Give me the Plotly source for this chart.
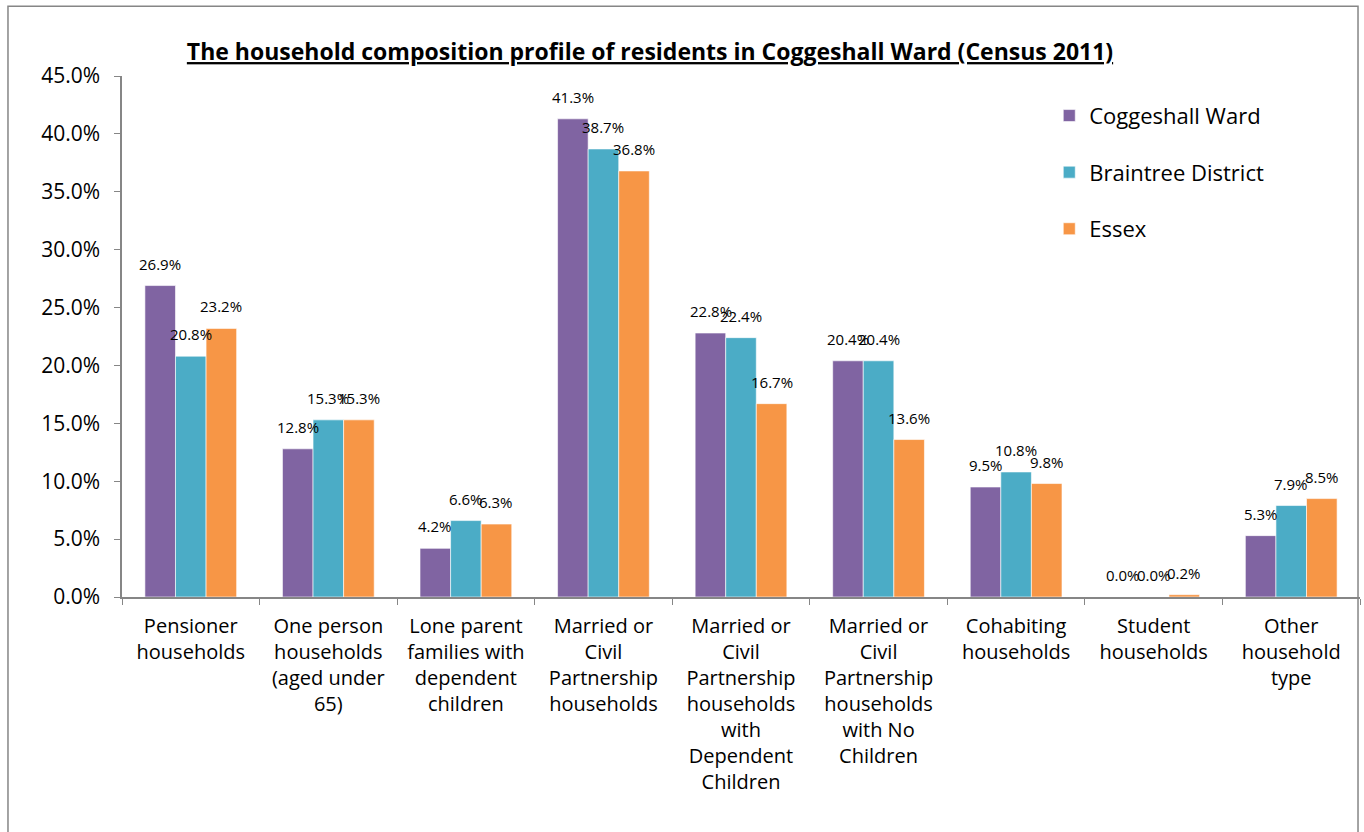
"""Household composition profile, Coggeshall Ward (Census 2011)."""

import plotly.graph_objects as go

categories = [
    "Pensioner<br>households",
    "One person<br>households<br>(aged under<br>65)",
    "Lone parent<br>families with<br>dependent<br>children",
    "Married or<br>Civil<br>Partnership<br>households",
    "Married or<br>Civil<br>Partnership<br>households<br>with<br>Dependent<br>Children",
    "Married or<br>Civil<br>Partnership<br>households<br>with No<br>Children",
    "Cohabiting<br>households",
    "Student<br>households",
    "Other<br>household<br>type",
]

coggeshall = [26.9, 12.8, 4.2, 41.3, 22.8, 20.4, 9.5, 0.0, 5.3]
braintree = [20.8, 15.3, 6.6, 38.7, 22.4, 20.4, 10.8, 0.0, 7.9]
essex = [23.2, 15.3, 6.3, 36.8, 16.7, 13.6, 9.8, 0.2, 8.5]

series_names = ["Coggeshall Ward", "Braintree District", "Essex"]
series_colors = ["#8064A2", "#4BACC6", "#F79646"]

FONT = "Open Sans"
AXIS_GREY = "#868686"

fig = go.Figure()

series = [coggeshall, braintree, essex]
for name, values, color in zip(series_names, series, series_colors):
    fig.add_trace(
        go.Bar(
            x=categories,
            y=values,
            name=name,
            legendgroup=name,
            marker={"color": color, "line": {"color": "rgba(255,255,255,0.6)", "width": 1}},
        )
    )

# data labels sit a little above each bar, as in the original
bar_step = 30.5
for i, values in enumerate(series):
    for cat, val in zip(categories, values):
        fig.add_annotation(
            x=cat,
            y=val,
            text=f"{val:.1f}%",
            showarrow=False,
            xshift=(i - 1) * bar_step,
            yshift=10,
            yanchor="bottom",
            font={"family": FONT, "size": 15, "color": "#000000"},
        )

# outer chart border
fig.add_shape(
    type="rect",
    xref="paper",
    yref="paper",
    x0=-0.0921,
    x1=0.9984,
    y0=-0.47,
    y1=1.134,
    line={"color": AXIS_GREY, "width": 1.5},
    fillcolor="rgba(0,0,0,0)",
)

fig.update_layout(
    width=1364,
    height=832,
    paper_bgcolor="white",
    plot_bgcolor="white",
    barmode="group",
    bargap=0.333,
    bargroupgap=0,
    margin={"l": 122, "r": 4, "t": 76, "b": 235},
    font={"family": FONT, "size": 20, "color": "#000000"},
    title={
        "text": "<b><u>The household composition profile of residents in Coggeshall Ward (Census 2011)</u></b>",
        "x": 650 / 1364,
        "xanchor": "center",
        "xref": "container",
        "y": 1 - 52 / 832,
        "yanchor": "middle",
        "yref": "container",
        "font": {"family": FONT, "size": 23, "color": "#000000"},
    },
    legend={
        "x": 0.749,
        "xanchor": "left",
        "y": 0.964,
        "yanchor": "top",
        "tracegroupgap": 25,
        "bgcolor": "rgba(0,0,0,0)",
        "font": {"family": FONT, "size": 22},
    },
    showlegend=True,
    xaxis={
        "type": "category",
        "showline": True,
        "linecolor": AXIS_GREY,
        "linewidth": 1.5,
        "ticks": "outside",
        "tickson": "boundaries",
        "ticklen": 6,
        "tickcolor": AXIS_GREY,
        "showgrid": False,
        "tickangle": 0,
        "ticklabelstandoff": 10,
        "tickfont": {"family": FONT, "size": 20},
    },
    yaxis={
        "range": [0, 45],
        "dtick": 5,
        "tickformat": ".1f",
        "ticksuffix": "%",
        "showline": True,
        "linecolor": AXIS_GREY,
        "linewidth": 1.5,
        "ticks": "outside",
        "ticklen": 6,
        "tickcolor": AXIS_GREY,
        "showgrid": False,
        "zeroline": False,
        "ticklabelstandoff": 10,
        "tickfont": {"family": FONT, "size": 21},
    },
)

# the page body has a default 8px margin; drop it so the chart sits at the corner
fig.write_html(
    "out.html",
    config={"displayModeBar": False},
    post_script="document.body.style.margin = '0';",
)
